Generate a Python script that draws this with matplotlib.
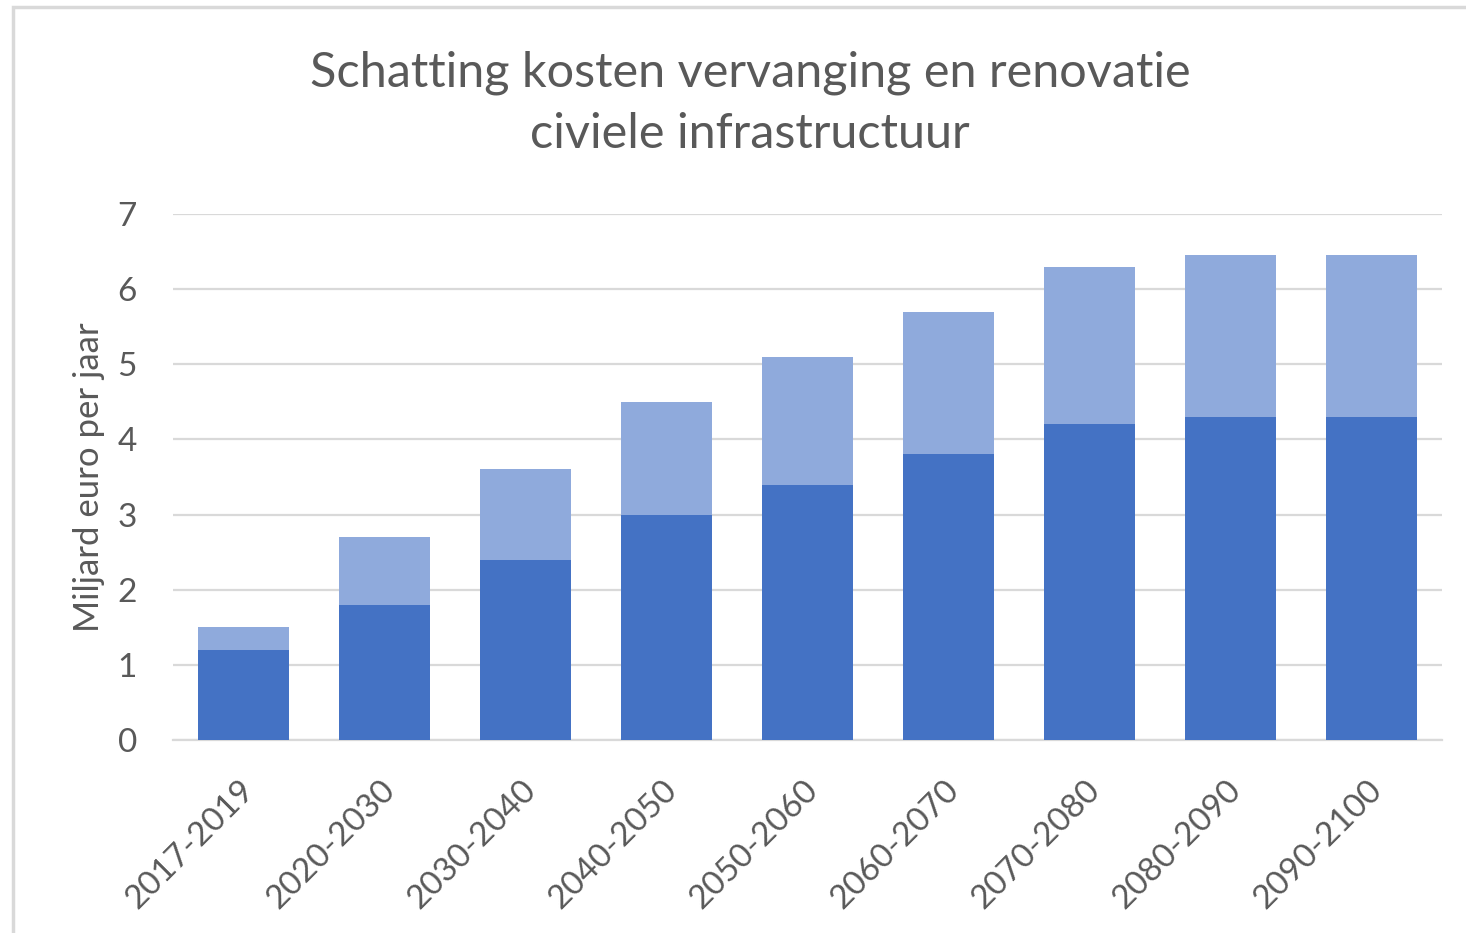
import matplotlib.pyplot as plt
import matplotlib.transforms as mtransforms
from matplotlib.patches import Rectangle

# values (miljard euro per jaar)
periods = ["2017-2019", "2020-2030", "2030-2040", "2040-2050", "2050-2060",
           "2060-2070", "2070-2080", "2080-2090", "2090-2100"]
vervanging = [1.2, 1.8, 2.4, 3.0, 3.4, 3.8, 4.2, 4.3, 4.3]
renovatie = [0.3, 0.9, 1.2, 1.5, 1.7, 1.9, 2.1, 2.15, 2.15]

W, H = 1466, 933
text_color = "#595959"
grid_color = "#d9d9d9"

plt.rcParams['font.family'] = ['Lato', 'DejaVu Sans']

fig = plt.figure(figsize=(W / 100, H / 100), dpi=100)
ax = fig.add_axes([173 / W, 1 - 740 / H, (1442 - 173) / W, (740 - 214) / H])

x = range(len(periods))
ax.bar(x, vervanging, width=0.64, color="#4472c4", zorder=3)
ax.bar(x, renovatie, width=0.64, bottom=vervanging, color="#8faadc", zorder=3)

ax.set_xlim(-0.5, len(periods) - 0.5)
ax.set_ylim(0, 7)
ax.set_yticks(range(0, 8))
ax.yaxis.grid(True, color=grid_color, linewidth=1.6, zorder=0)
for s in ["top", "right", "left"]:
    ax.spines[s].set_visible(False)
ax.spines["bottom"].set_color(grid_color)
ax.spines["bottom"].set_linewidth(1.6)
ax.tick_params(axis="both", length=0, labelsize=24, labelcolor=text_color)
ax.tick_params(axis="y", pad=26)
ax.set_xticks(list(x))
ax.set_xticklabels(periods, rotation=45, ha="right", rotation_mode="anchor")
ax.tick_params(axis="x", pad=25)
# nudge the rotated labels a little to the left
shift = mtransforms.ScaledTranslation(-5 / 100, 0, fig.dpi_scale_trans)
for lbl in ax.get_xticklabels():
    lbl.set_transform(lbl.get_transform() + shift)

ax.set_ylabel("Miljard euro per jaar", fontsize=25, color=text_color, labelpad=9)

fig.text(750 / W, 1 - 103 / H, "Schatting kosten vervanging en renovatie\nciviele infrastructuur",
         ha="center", va="center", fontsize=35, color=text_color, linespacing=1.48)

# light grey frame around the chart
fig.patches.append(Rectangle((13 / W, -0.01), 1.1, 1 - 7 / H + 0.01,
                             transform=fig.transFigure, fill=False,
                             edgecolor="#d9d9d9", linewidth=2.5))

fig.savefig("out.png", dpi=100, facecolor="white")
